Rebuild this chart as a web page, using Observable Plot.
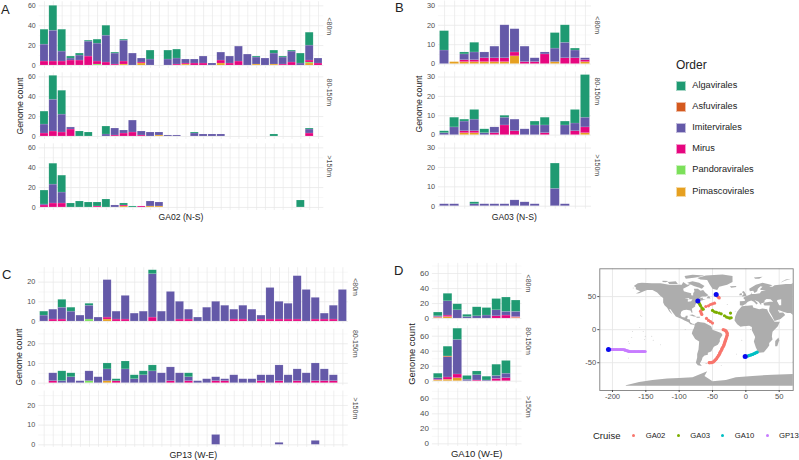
<!DOCTYPE html>
<html><head><meta charset="utf-8">
<script src="https://cdn.jsdelivr.net/npm/d3@7"></script>
<script src="https://cdn.jsdelivr.net/npm/@observablehq/plot@0.6"></script>
<style>
html,body{margin:0;padding:0;background:#fff}
#page{position:relative;width:799px;height:460px;overflow:hidden;font-family:"Liberation Sans",Arial,sans-serif;color:#222}
#page svg{position:absolute;background:transparent;font-family:"Liberation Sans",Arial,sans-serif}
.t{position:absolute;white-space:nowrap;line-height:1}
.sw{position:absolute;width:10px;height:10px;box-sizing:border-box;border:.5px solid rgba(255,255,255,.6)}
.dot{position:absolute;width:3px;height:3px;border-radius:50%}
</style></head><body><div id="page"></div>
<script>
// ---- categories
const orders = ["Algavirales","Asfuvirales","Imitervirales","Mirus","Pandoravirales","Pimascovirales"];
const orderColors = ["#1f9a72","#d4591e","#6459a8","#e6067f","#7ce05a","#e6a020"];
const stackBottomUp = ["Pimascovirales","Pandoravirales","Mirus","Imitervirales","Asfuvirales","Algavirales"];
const depths = ["<80m","80-150m",">150m"];
const cruises = ["GA02","GA03","GA10","GP13"];
const cruiseColors = ["#F8766D","#7CAE00","#00BFC4","#C77CFF"];

// ---- GA02 (32 stations)
const a_s_pima = [0,0,0,0,0,0,0,0,0,1,0,2,0,0,0,0,1,0,0,0,2,0,0,0,1,0,1,0,0,0,2,0];
const a_s_pand = [0,0,0,0,0,0,1,0,0,0,0,0,0,0,0,0,0,0,0,0,0,0,0,0,0,0,0,0,0,0,1,0];
const a_s_mirus = [4,4,4,5,5,9,3,3,1,3,0,1,0,0,0,1,1,2,2,0,3,2,4,0,0,0,0,1,3,0,2,2];
const a_s_imit = [17,31,10,2,5,15,18,27,11,21,12,4,6,0,6,6,4,4,7,2,8,7,15,11,7,7,11,7,11,2,15,5];
const a_s_alga = [15,25,22,2,2,1,4,10,1,1,0,0,9,0,9,9,0,0,0,0,0,0,0,0,1,0,3,1,1,10,13,0];
const a_m_pima = [0,0,0,0,0,0,0,0,0,0,0,0,0,1,0,0,0,0,0,0,0,0,0,0,0,0,0,0,0,0,0,0];
const a_m_mirus = [3,5,4,7,0,0,0,0,1,3,4,1,0,0,0,0,0,0,0,0,0,0,0,0,0,0,0,0,0,0,3,0];
const a_m_imit = [9,32,18,2,0,0,0,2,7,3,12,4,4,3,1,1,0,3,2,2,2,0,0,0,0,0,0,0,0,0,4,0];
const a_m_alga = [13,24,24,0,5,4,0,8,0,0,0,0,0,0,0,0,0,1,0,0,0,0,0,0,0,0,2,0,0,0,1,0];
const a_d_pima = [0,0,0,0,0,0,0,0,0,1,0,0,1,1,0,0,0,0,0,0,0,0,0,0,0,0,0,0,0,0,0,0];
const a_d_mirus = [2,4,4,0,0,0,1,0,0,1,0,1,0,0,0,0,0,0,0,0,0,0,0,0,0,0,0,0,0,0,0,0];
const a_d_imit = [1,19,11,0,0,0,0,0,2,0,0,0,5,4,0,0,0,0,0,0,0,0,0,0,0,0,0,0,0,0,0,0];
const a_d_alga = [14,21,17,4,6,5,4,8,0,2,1,0,0,0,0,0,0,0,0,0,0,0,0,0,0,0,0,0,0,7,0,0];

// ---- GA03 (15 stations)
const b_s_pima = [0,1,1,1,1,1,1,4,0,0,0,1,0,0,1];
const b_s_mirus = [0,0,1,1,2,2,2,2,1,1,5,0,3,3,1];
const b_s_imit = [7,0,3,4,3,6,17,12,8,2,1,7,8,4,1];
const b_s_alga = [10,0,1,5,0,0,0,0,0,0,0,8,9,1,0];
const b_m_pima = [0,0,1,1,0,0,0,0,0,0,0,0,0,0,1];
const b_m_mirus = [0,0,1,1,0,1,5,2,0,0,1,0,0,2,3];
const b_m_imit = [1,4,5,6,1,3,4,6,3,5,4,0,5,4,5];
const b_m_alga = [1,5,1,5,2,0,1,0,0,2,4,0,2,7,22];
const b_d_imit = [1,1,0,1,1,1,1,3,2,1,0,9,1,0,0];
const b_d_alga = [0,0,0,1,0,0,0,0,0,0,0,13,0,0,0];

// ---- GP13 (34 stations)
const c_s_pima = [0,0,0,0,0,0,0,1,0,0,0,0,0,0,0,0,0,0,0,0,0,0,0,0,0,0,0,0,0,0,0,0,0,0];
const c_s_pand = [0,0,0,0,0,1,0,0,0,0,0,0,0,0,0,0,0,0,0,0,0,0,0,0,0,0,0,0,0,0,0,0,0,0];
const c_s_mirus = [0,1,1,0,0,0,0,1,1,1,0,0,2,0,0,1,1,0,0,0,0,1,1,0,1,1,1,1,1,0,1,1,1,0];
const c_s_imit = [3,5,6,5,3,7,2,19,4,12,4,5,22,5,15,9,5,2,7,10,8,5,7,6,2,16,9,8,22,16,11,3,7,16];
const c_s_alga = [2,0,4,2,0,1,0,0,0,0,0,0,2,0,0,0,0,0,0,0,0,0,0,0,0,0,0,0,0,0,0,0,0,0];
const c_m_pima = [0,0,0,0,0,0,0,1,0,0,0,0,0,0,0,0,0,0,0,0,0,0,0,0,0,0,0,0,0,0,0,0,0,0];
const c_m_pand = [0,0,0,0,0,1,0,0,0,0,0,0,0,0,0,0,0,0,0,0,0,0,0,0,0,0,0,0,0,0,0,0,0,0];
const c_m_mirus = [0,1,0,0,0,0,0,0,1,0,0,0,0,0,1,0,1,0,0,1,1,0,0,0,1,0,1,0,1,0,1,1,1,0];
const c_m_imit = [0,4,1,3,1,5,3,6,0,7,2,4,6,5,7,5,2,1,2,2,1,4,2,2,3,4,8,4,6,5,9,6,3,0];
const c_m_alga = [0,0,5,2,0,0,0,3,1,4,2,2,3,0,0,0,2,0,0,0,0,0,0,0,0,0,0,0,0,0,0,0,0,0];
const c_d_imit = [0,0,0,0,0,0,0,0,0,0,0,0,0,0,0,0,0,0,0,5,0,0,0,0,0,0,1,0,0,0,2,0,0,0];

// ---- GA10 (9 stations)
const d_s_pima = [1,2,0,0,0,0,0,0,1];
const d_s_mirus = [1,2,0,0,0,0,3,4,1];
const d_s_imit = [1,19,11,2,3,4,8,5,7];
const d_s_alga = [5,10,8,3,12,10,15,19,15];
const d_m_pima = [1,2,4,0,0,0,0,0,0];
const d_m_mirus = [1,3,5,0,1,0,3,4,0];
const d_m_imit = [2,27,46,2,7,1,4,6,0];
const d_m_asfu = [0,1,0,0,0,0,0,0,0];
const d_m_alga = [6,13,15,5,5,5,15,17,0];

const northAmerica = [[-168,66],[-162,70],[-156,71],[-141,70],[-128,70],[-115,68],[-108,68],[-96,68],[-94,72],[-88,68],[-82,69],[-86,66],[-94,62],[-93,58],[-88,56.5],[-82,55],[-82,52],[-79,51.5],[-79,55],[-77,58],[-78,62],[-72,62],[-68,59],[-64,60],[-61,56],[-56,52],[-60,50],[-66,50],[-70,47],[-65,48.5],[-64,46],[-60,46],[-66,44],[-70,43.5],[-71,41.5],[-74,40.5],[-76,37],[-76,35],[-81,31.5],[-80,26],[-81,25],[-83,29],[-89,30],[-94,29.5],[-97,27],[-98,22],[-96,19],[-91,18.5],[-90,21],[-87,21],[-88,16],[-84,15.5],[-83.5,11],[-80,9],[-77,8.5],[-78,7.5],[-83,8],[-86,11],[-92,14],[-96,16],[-105,20],[-109,25],[-113,31],[-115,31],[-110,23],[-115,28],[-118,33],[-122,37],[-124,41],[-124,48],[-128,51],[-133,56],[-140,60],[-148,60],[-153,58],[-160,55],[-165,54.5],[-158,58],[-165,61],[-165,64]];
const southAmerica = [[-77,8.5],[-72,12],[-68,11],[-62,10.5],[-52,5],[-50,0],[-44,-2.5],[-37,-5],[-35,-8],[-39,-14],[-39,-18],[-42,-23],[-48,-26],[-52,-33],[-57,-35],[-57,-38],[-62,-39],[-65,-42],[-66,-46],[-69,-51],[-66,-55],[-72,-54],[-75,-50],[-73,-42],[-73,-37],[-71,-30],[-70,-18],[-76,-14],[-81,-6],[-80,-2],[-78,2],[-77,5]];
const greenland = [[-73,78],[-60,82],[-35,83.5],[-20,81],[-20,72],[-28,68],[-40,65],[-43,60],[-50,62],[-54,68],[-58,75],[-68,76]];
const baffin = [[-80,73],[-70,71],[-62,66],[-66,62],[-72,64],[-78,66],[-88,71]];
const victoria = [[-117,72],[-105,73],[-102,69],[-115,69]];
const ellesmere = [[-90,77],[-75,79],[-62,82],[-80,83],[-92,81]];
const banks = [[-125,74],[-116,73.5],[-120,71.5],[-125,72]];
const newfoundland = [[-59,47.5],[-53,47],[-55,51],[-57,50]];
const cuba = [[-85,22],[-80,23],[-74,20],[-78,20]];
const hispaniola = [[-74,19.5],[-69,19.5],[-69,18],[-74,18]];
const iceland = [[-24,65.5],[-15,66],[-14,64.5],[-22,63.5]];
const africa = [[-6,35.5],[10,37],[11,33.5],[20,31],[25,32],[32,31],[33,28],[37,21],[43,12],[51,12],[48,5],[40,-3],[39,-10],[40,-15],[35,-20],[35,-24],[32,-28],[27,-34],[20,-35],[18,-33],[15,-27],[12,-18],[14,-11],[9,-1],[9,4],[5,6],[-4,5],[-8,4.5],[-13,8],[-17,14],[-16,20],[-13,27],[-10,31]];
const eurasia = [[75,73],[68,69],[60,69],[50,68],[43,67],[40,65],[35,65],[40,67],[33,69],[25,71],[15,68],[5,62],[6,58],[11,59],[13,55.5],[17,58],[18,62],[22,65.5],[25,65],[21,61],[23,60],[30,60],[23,58],[21,55],[14,54],[9,54],[9,57],[8,54],[4,52],[-1,50],[-4,48],[-1,45],[-2,43.5],[-9,43],[-9,37],[-5,36],[0,39],[3,42],[8,44],[12,42],[16,38],[18,40],[13,45],[19,42],[23,37],[23,40],[28,41],[28,44],[31,46.5],[37,46],[41,42],[36,42],[29,41],[26,39],[28,36.5],[36,36.5],[35,31.5],[35,28],[39,21],[43,13],[52,16],[59,22],[56,26],[50,25.5],[48,30],[56,27],[62,25],[67,25],[72,21],[75,15]];
const madagascar = [[49,-12],[50,-16],[47,-25],[44,-25],[44,-17]];
const britain = [[-6,50],[1,51],[0,54],[-3,58.5],[-6,57],[-3,54],[-5,52]];
const ireland = [[-10,52],[-6,52],[-6,55],[-9,54.5]];
const svalbard = [[12,79],[25,80],[20,77],[14,77]];
const novayaZemlya = [[52,71],[58,74],[68,77],[60,76],[55,73]];
const falklands = [[-61,-52],[-58,-52],[-58,-51],[-60,-51]];
const antarctica = [[-180,-84],[-160,-79],[-140,-76],[-118,-74],[-100,-73],[-80,-72],[-68,-67],[-58,-63],[-62,-70],[-50,-78],[-30,-76],[-15,-72],[10,-70],[40,-68],[75,-67],[75,-85],[-180,-85]];
const caspian = [[47,45],[53,46],[53,37],[50,37],[47,43]];
const superior = [[-92,47],[-85,48],[-85,46.5]];
const huron = [[-87,46],[-80,46],[-82,43],[-87,42]];
const islets = [[-158,21],[-156,20],[-159,3],[-154,-3],[-170,-3],[-171,-12],[-176,-18],[-175,-21],[-151,-10],[-141,-10],[-139,-16],[-152,-15],[-128,-23],[-176,-43],[-169,63],[-91,0],[-16,28],[-24,15],[-28,38],[-65,32],[-37,-54],[70,-49],[-14,-37],[-6,-16],[7,0]];

const ga02Track = [[-40,48],[-41,49],[-42,50],[-47,40],[-50,39],[-53,38],[-56,36],[-60,35],[-66,30],[-68,28],[-67,25],[-66,23],[-59,17],[-56,14],[-53,12],[-50,10],[-34,0],[-32,-0.5],[-31,-1],[-30,-2],[-29,-3],[-28,-5],[-28,-6],[-28,-8],[-28,-9],[-29,-11],[-29,-12],[-30,-14],[-30,-15],[-31,-17],[-31,-18],[-32,-20],[-32,-21],[-33,-23],[-33,-24],[-34,-26],[-35,-27],[-36,-29],[-36,-30],[-37,-32],[-38,-33],[-39,-35],[-39,-36],[-40,-38],[-41,-39],[-42,-41],[-43,-42],[-44,-44],[-45,-45],[-46,-46],[-47,-47],[-48,-48],[-49,-49],[-51,-49.5],[-52,-50],[-54,-50],[-55,-50]];
const ga03Track = [[-70,40],[-69,38],[-68,36],[-66,33],[-64,31],[-50,29],[-47,27],[-44,26],[-40,25],[-37,24],[-32,21],[-29,19],[-26,18],[-24,17.5],[-22,18],[-23,25]];
const ga10Track = [[2,-40],[4,-39.5],[5,-39],[7,-38.5],[8,-38],[10,-37.5],[11,-37],[13,-36],[14,-35.5],[16,-34.5],[17,-34]];
const gp13Track = [[-204,-30],[-202,-30],[-200,-30],[-198,-30],[-196,-30],[-194,-30],[-192,-30],[-190,-30],[-188,-30],[-186,-30],[-184,-30],[-182,-30.5],[-181,-31],[-179,-31.5],[-178,-32],[-176,-32.5],[-175,-33],[-173,-33],[-171,-33],[-169,-33],[-167,-33],[-165,-33],[-163,-33],[-161,-33],[-159,-33],[-157,-33],[-155,-33],[-153,-33],[-151,-33]];
const blueStarts = [[-44.5,53],[-72,43.5],[-206,-30],[-1,-40.5]];

const page = document.getElementById("page");
const ink = "#4d4d4d", gridMajor = "#e8e8e8", gridMinor = "#f1f1f1";

function barTable(series){
  const rows = [];
  for (const [depth, order, values] of series)
    values.forEach((v, i) => { if (v > 0) rows.push({pos: i + 1, depth, order, count: v}); });
  return rows;
}
function text(str, x, y, size, opts = {}){
  const el = document.createElement("div");
  el.className = "t"; el.textContent = str;
  el.style.left = x + "px"; el.style.top = y + "px"; el.style.fontSize = size + "px";
  if (opts.color) el.style.color = opts.color;
  el.style.transform = opts.rotate ? "translate(-50%,-50%) rotate(-90deg)" : opts.center ? "translate(-50%,-50%)" : "translate(0,-50%)";
  page.appendChild(el);
}

function panel(cfg){
  const n = cfg.stations;
  const positions = d3.range(1, n + 1);
  const rows = barTable(cfg.series);
  const svg = Plot.plot({
    width: cfg.w, height: cfg.h,
    marginLeft: cfg.ml, marginRight: cfg.mr, marginTop: cfg.mt, marginBottom: cfg.mb,
    x: {type: "band", domain: positions, paddingInner: 0.1, paddingOuter: 0.15, round: false, axis: null},
    y: {domain: cfg.yDomain, axis: null},
    fy: {domain: depths, paddingInner: cfg.gap, paddingOuter: 0, round: false, axis: null, label: null},
    color: {domain: orders, range: orderColors},
    marks: [
      Plot.gridY({ticks: cfg.minor, stroke: gridMinor, strokeOpacity: 1, strokeWidth: 0.5}),
      Plot.gridY({ticks: cfg.major, stroke: gridMajor, strokeOpacity: 1, strokeWidth: 0.8}),
      Plot.gridX({ticks: positions, stroke: gridMajor, strokeOpacity: 1, strokeWidth: 0.7}),
      Plot.barY(rows, {x: "pos", y: "count", fy: "depth", fill: "order", order: stackBottomUp,
        stroke: "#fff", strokeOpacity: 0.25, strokeWidth: 0.5}),
      Plot.axisY({anchor: "left", ticks: cfg.major, tickSize: 0, tickPadding: cfg.pad, label: null, fontSize: cfg.tick, color: ink, tickFormat: d => String(d)}),
      Plot.text(depths, {fy: d => d, text: d => d, frameAnchor: "right", rotate: 90, dx: cfg.stripDx, fontSize: 7, fill: ink})
    ]
  });
  svg.style.left = cfg.x + "px"; svg.style.top = cfg.y + "px";
  page.appendChild(svg);
}

panel({x: 0, y: 0, w: 340, h: 225, ml: 38.7, mr: 16.7, mt: 1.3, mb: 15, gap: 0.06, stations: 32, yDomain: [-3.05, 64.05],
  major: [0,20,40,60], minor: [10,30,50], tick: 7, pad: 3.5, stripDx: 5,
  series: [["<80m","Pimascovirales",a_s_pima],["<80m","Pandoravirales",a_s_pand],["<80m","Mirus",a_s_mirus],["<80m","Imitervirales",a_s_imit],["<80m","Algavirales",a_s_alga],
    ["80-150m","Pimascovirales",a_m_pima],["80-150m","Mirus",a_m_mirus],["80-150m","Imitervirales",a_m_imit],["80-150m","Algavirales",a_m_alga],
    [">150m","Pimascovirales",a_d_pima],[">150m","Mirus",a_d_mirus],[">150m","Imitervirales",a_d_imit],[">150m","Algavirales",a_d_alga]]});
panel({x: 400, y: 0, w: 210, h: 225, ml: 38, mr: 19, mt: 0.5, mb: 16.3, gap: 0.07, stations: 15, yDomain: [-1.55, 32.55],
  major: [0,10,20,30], minor: [5,15,25], tick: 7.3, pad: 3.5, stripDx: 6,
  series: [["<80m","Pimascovirales",b_s_pima],["<80m","Mirus",b_s_mirus],["<80m","Imitervirales",b_s_imit],["<80m","Algavirales",b_s_alga],
    ["80-150m","Pimascovirales",b_m_pima],["80-150m","Mirus",b_m_mirus],["80-150m","Imitervirales",b_m_imit],["80-150m","Algavirales",b_m_alga],
    [">150m","Imitervirales",b_d_imit],[">150m","Algavirales",b_d_alga]]});
panel({x: 0, y: 240, w: 370, h: 220, ml: 38.3, mr: 22.2, mt: 27.2, mb: 13.1, gap: 0.086, stations: 34, yDomain: [-1.3, 27.3],
  major: [0,10,20], minor: [5,15,25], tick: 7.2, pad: 3.5, stripDx: 6.5,
  series: [["<80m","Pimascovirales",c_s_pima],["<80m","Pandoravirales",c_s_pand],["<80m","Mirus",c_s_mirus],["<80m","Imitervirales",c_s_imit],["<80m","Algavirales",c_s_alga],
    ["80-150m","Pimascovirales",c_m_pima],["80-150m","Pandoravirales",c_m_pand],["80-150m","Mirus",c_m_mirus],["80-150m","Imitervirales",c_m_imit],["80-150m","Algavirales",c_m_alga],
    [">150m","Imitervirales",c_d_imit]]});
panel({x: 395, y: 240, w: 150, h: 220, ml: 36.9, mr: 23.5, mt: 22.9, mb: 14, gap: 0.078, stations: 9, yDomain: [-3.5, 73.5],
  major: [0,20,40,60], minor: [10,30,50,70], tick: 8, pad: 3.5, stripDx: 6.5,
  series: [["<80m","Pimascovirales",d_s_pima],["<80m","Mirus",d_s_mirus],["<80m","Imitervirales",d_s_imit],["<80m","Algavirales",d_s_alga],
    ["80-150m","Pimascovirales",d_m_pima],["80-150m","Mirus",d_m_mirus],["80-150m","Imitervirales",d_m_imit],["80-150m","Asfuvirales",d_m_asfu],["80-150m","Algavirales",d_m_alga]]});

// ---- map
const landParts = [northAmerica,southAmerica,greenland,baffin,victoria,ellesmere,banks,newfoundland,cuba,hispaniola,iceland,africa,eurasia,madagascar,britain,ireland,svalbard,novayaZemlya,falklands,antarctica];
const land = landParts.flatMap((part, id) => part.map(([lon, lat]) => ({lon, lat, id})));
const lakes = [caspian,superior,huron].flatMap((part, id) => part.map(([lon, lat]) => ({lon, lat, id})));
const tracks = [ga02Track,ga03Track,ga10Track,gp13Track].flatMap((part, i) => part.map(([lon, lat]) => ({lon, lat, cruise: cruises[i]})));
const mapSvg = Plot.plot({
  width: 229, height: 160, marginLeft: 29.3, marginRight: 6.3, marginTop: 8.3, marginBottom: 30,
  x: {domain: [-219, 71], axis: null},
  y: {domain: [-92, 92], axis: null},
  color: {domain: cruises, range: cruiseColors},
  marks: [
    Plot.gridX({ticks: [-200,-150,-100,-50,0,50], stroke: "#e6e6e6", strokeOpacity: 1, strokeWidth: 0.9}),
    Plot.gridY({ticks: [-50,0,50], stroke: "#e6e6e6", strokeOpacity: 1, strokeWidth: 0.9}),
    Plot.line(land, {x: "lon", y: "lat", z: "id", fill: "#adadad", stroke: "none", clip: true}),
    Plot.line(lakes, {x: "lon", y: "lat", z: "id", fill: "#fff", stroke: "none", clip: true}),
    Plot.dot(islets, {x: d => d[0], y: d => d[1], r: 0.4, fill: "#adadad", stroke: "none"}),
    Plot.dot(tracks, {x: "lon", y: "lat", fill: "cruise", r: 1.6, stroke: "none"}),
    Plot.dot(blueStarts, {x: d => d[0], y: d => d[1], r: 2.5, fill: "#0a0aee", stroke: "none"}),
    Plot.frame({stroke: "#7f7f7f", strokeWidth: 0.9}),
    Plot.axisX({anchor: "bottom", ticks: [-200,-150,-100,-50,0,50], tickSize: 2, tickPadding: 1.5, label: null, fontSize: 7.6, color: ink, tickFormat: d => String(d)}),
    Plot.axisY({anchor: "left", ticks: [-50,0,50], tickSize: 2, tickPadding: 1.5, label: null, fontSize: 7.6, color: ink, tickFormat: d => String(d)})
  ]
});
mapSvg.style.left = "570px"; mapSvg.style.top = "260px";
page.appendChild(mapSvg);

// ---- panel letters, axis titles
[["A",1,9],["B",395,6.8],["C",2,273.5],["D",394,270]].forEach(([s,x,y]) => text(s,x,y,13));
[["GA02 (N-S)",181,217.3,8.6],["GA03 (N-S)",514.3,216.7,8.6],["GP13 (W-E)",193.3,455,8.8],["GA10 (W-E)",476.7,454.3,9.5]].forEach(([s,x,y,f]) => text(s,x,y,f,{center:true}));
[[20,106,8.7],[419.3,104,8.7],[19.3,356.7,8.7],[411.7,354.3,9.4]].forEach(([x,y,f]) => text("Genome count",x,y,f,{rotate:true}));

// ---- legends
text("Order",676,64.7,12);
orders.forEach((o,i) => {
  const yc = 86 + i * 21.1;
  const sw = document.createElement("div");
  sw.className = "sw"; sw.style.left = "676px"; sw.style.top = (yc - 5) + "px"; sw.style.background = orderColors[i];
  page.appendChild(sw);
  text(o,692.3,yc,9.2);
});
text("Cruise",593,435.7,9.5);
[633.7,678.3,722.7,767].forEach((x,i) => {
  const d = document.createElement("div");
  d.className = "dot"; d.style.left = (x - 1.5) + "px"; d.style.top = "434.2px"; d.style.background = cruiseColors[i];
  page.appendChild(d);
  text(cruises[i], x + 12, 435.7, 7.7);
});
</script></body></html>
